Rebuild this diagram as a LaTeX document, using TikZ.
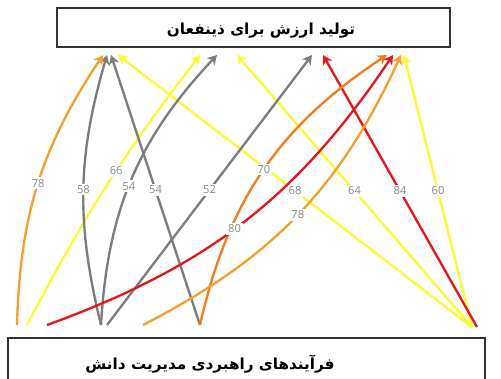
\documentclass[tikz,border=0pt]{standalone}
\usepackage{fontspec}
\setsansfont{Open Sans}
\newfontfamily\farsi[Script=Arabic]{DejaVu Sans}
\TeXXeTstate=1
\usepackage{tikz}
\usetikzlibrary{arrows.meta,positioning}

\definecolor{orng}{RGB}{243,160,45}
\definecolor{orngdk}{RGB}{240,125,30}
\definecolor{ylw}{RGB}{250,250,55}
\definecolor{gry}{RGB}{125,125,125}
\definecolor{rd}{RGB}{228,22,30}
\definecolor{numgray}{RGB}{135,135,135}

\begin{document}
\begin{tikzpicture}[x=0.03cm,y=-0.03cm,
panel/.style={draw=black!80,line width=1.2pt,fill=white,inner sep=0pt},
paneltext/.style={font=\farsi\bfseries\fontsize{13}{15}\selectfont},
link/.style={line width=2pt,-{Stealth[length=8pt,width=9pt,inset=2.5pt]}},
num/.style={fill=white,inner sep=1.5pt,text=numgray,font=\sffamily\fontsize{9.5}{10}\selectfont}]
\useasboundingbox (0,0) rectangle (501,378);
\clip (0,0) rectangle (501,378);

% boxes
\node[panel,minimum width=11.79cm,minimum height=1.17cm] (value) at (253.5,27.5) {};
\node[paneltext] (valuetxt) at (261,31) {\beginR تولید ارزش برای ذینفعان\endR};
\node[panel,minimum width=14.31cm,minimum height=1.62cm] (proc) at (246.5,365) {};
\node[paneltext] (proctxt) at (210,364) {\beginR فرآیندهای راهبردی مدیریت دانش\endR};

% start points
\coordinate (s1) at (17,325);
\coordinate (s2) at (27,325);
\coordinate (s3) at (47,325);
\coordinate (s4) at (101,325);
\coordinate (s4b) at (107,325);
\coordinate (s5) at (143,325);
\coordinate (s6) at (200,325);
\coordinate (s7) at (472,327);
\coordinate (s7b) at (477,327);
% end points
\coordinate (t1) at (103,55);
\coordinate (t2) at (107,55);
\coordinate (t3) at (111,55);
\coordinate (t4) at (118,55);
\coordinate (t5) at (200,55);
\coordinate (t6) at (217,55);
\coordinate (t7) at (237,55);
\coordinate (t8) at (312,55);
\coordinate (t9) at (323,55);
\coordinate (t10) at (387,55);
\coordinate (t11) at (393,55);
\coordinate (t12) at (401,55);
\coordinate (t12b) at (404,55);

% links
\draw[link,ylw] (s7) -- node[num]{68} (t4);
\draw[link,ylw] (s7) -- node[num]{64} (t7);
\draw[link,ylw] (s7) -- node[num]{60} (t12b);
\draw[link,rd] (s7b) -- node[num]{84} (t9);
\draw[link,ylw] (s2) to[bend left=5] node[num,pos=0.56]{66} (t5);
\draw[link,gry] (s6) -- node[num]{54} (t3);
\draw[link,gry] (s4b) -- node[num]{52} (t8);
\draw[link,gry] (s4) to[bend left=20] node[num,pos=0.47]{54} (t6);
\draw[link,gry] (s4) to[bend left=15] node[num]{58} (t2);
\draw[link,orng] (s1) to[bend left=16] node[num]{78} (t1);
\draw[link,orngdk] (s6) to[bend left=22] node[num]{70} (t10);
\draw[link,orng] (s5) to[bend right=19] node[num]{78} (t12);
\draw[link,rd] (s3) to[bend right=18] node[num,pos=0.47]{80} (t11);
\end{tikzpicture}
\end{document}
